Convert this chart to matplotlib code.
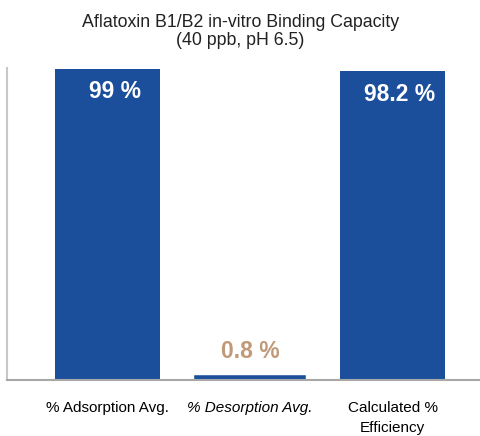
import matplotlib
matplotlib.use("Agg")
import matplotlib.pyplot as plt

# Data
categories = ['% Adsorption Avg.', '% Desorption Avg.', 'Calculated %\nEfficiency']
values = [99, 0.8, 98.2]
value_labels = ['99 %', '0.8 %', '98.2 %']

plt.rcParams['font.family'] = ['Liberation Sans', 'DejaVu Sans']

fig = plt.figure(figsize=(4.81, 4.36), dpi=100)
ax = fig.add_axes([0.0146, 0.1284, 0.9854, 0.7156])

x = list(range(len(values)))
bars = ax.bar(x, values, width=0.737, color='#1b4f9c')
# make the tiny bar visible like in the original
bars[1].set_edgecolor('#1b4f9c')
bars[1].set_linewidth(4)

ax.set_xlim(-0.705, 2.621)
ax.set_ylim(0, 99.3)

# value labels: inside for tall bars, above for the small one
for xi, v, lab in zip(x, values, value_labels):
    if v > 10:
        ax.text(xi + 0.05, v - 3.6, lab, ha='center', va='top', color='white',
                fontsize=16.5, fontweight='bold')
    else:
        ax.text(xi, v + 4.5, lab, ha='center', va='bottom', color='#c09a78',
                fontsize=16.5, fontweight='bold')

ax.set_xticks(x)
ax.set_xticklabels(categories, fontsize=11, linespacing=1.6)
ax.get_xticklabels()[1].set_style('italic')
ax.tick_params(axis='x', length=0, pad=15)
ax.set_yticks([])

for side in ['top', 'right']:
    ax.spines[side].set_visible(False)
ax.spines['left'].set_color('#c8c8c8')
ax.spines['left'].set_linewidth(1.5)
ax.spines['bottom'].set_color('#a8a8a8')
ax.spines['bottom'].set_linewidth(1.5)

fig.text(0.5, 0.968, 'Aflatoxin B1/B2 in-vitro Binding Capacity\n(40 ppb, pH 6.5)',
         ha='center', va='top', fontsize=12.8, color='#222222', linespacing=1.05)

fig.savefig('out.png', dpi=100)
